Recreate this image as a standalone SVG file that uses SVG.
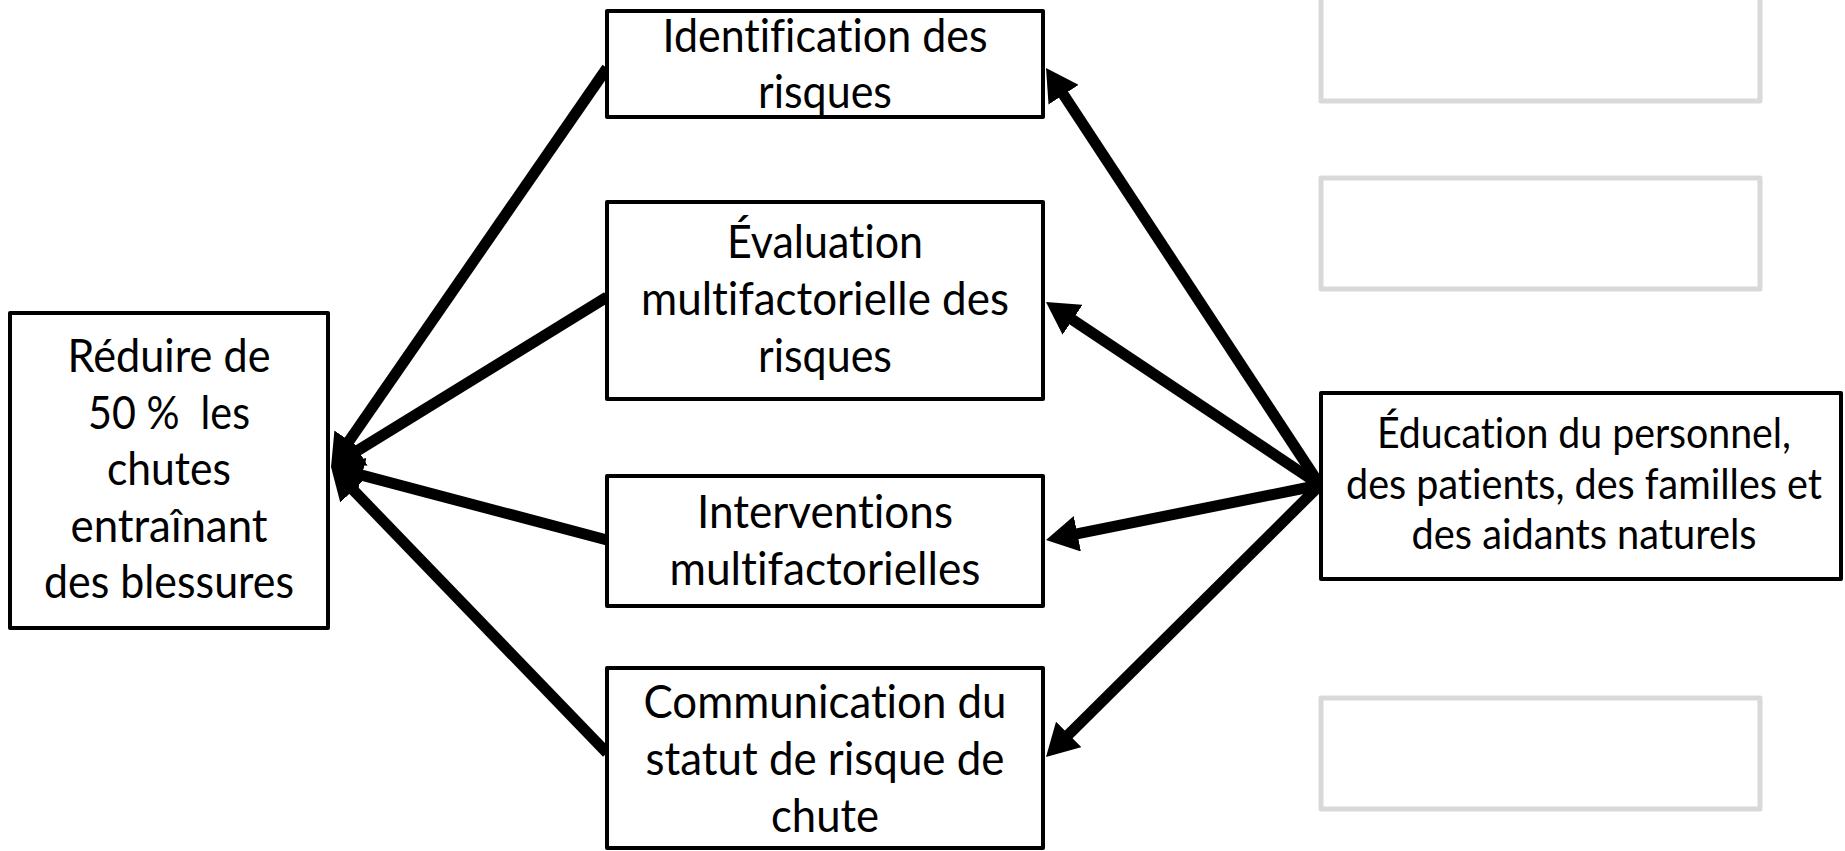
<svg xmlns="http://www.w3.org/2000/svg" width="1845" height="851" viewBox="0 0 1845 851">
  <style>
    .box { fill: #ffffff; stroke: #000000; stroke-width: 4; stroke-linejoin: round; }
    .ghost { fill: #ffffff; stroke: #d9d9d9; stroke-width: 5; stroke-linejoin: round; }
    .t { font-family: Lato, "Liberation Sans", sans-serif; fill: #000000; text-anchor: middle; font-variant-ligatures: none; font-feature-settings: "liga" 0, "clig" 0; }
    .big { font-size: 46px; }
    .mid { font-size: 47px; }
    .small { font-size: 42px; }
    .conn { stroke: #000000; stroke-width: 11; fill: none; marker-end: url(#arrow); }
  </style>
  <defs>
    <marker id="arrow" markerUnits="userSpaceOnUse" viewBox="0 0 32 36" markerWidth="32" markerHeight="36" refX="12" refY="18" orient="auto">
      <path d="M0,0 L32,18 L0,36 Z" fill="#000000"/>
    </marker>
  </defs>
  <rect x="0" y="0" width="1845" height="851" fill="#ffffff"/>

  <g id="ghost1"><rect class="ghost" x="1321" y="-20" width="439" height="121"/></g>
  <g id="ghost2"><rect class="ghost" x="1321" y="178" width="439" height="111"/></g>
  <g id="ghost3"><rect class="ghost" x="1321" y="698" width="439" height="111"/></g>

  <g id="connectors">
    <line class="conn" x1="607" y1="68" x2="342.4" y2="450.6"/>
    <line class="conn" x1="607" y1="297" x2="348.0" y2="456.5"/>
    <line class="conn" x1="607" y1="540" x2="350.3" y2="472.1"/>
    <line class="conn" x1="607" y1="753" x2="344.9" y2="481.4"/>
    <line class="conn" x1="1320" y1="485" x2="1057.0" y2="84.7"/>
    <line class="conn" x1="1320" y1="485" x2="1062.6" y2="313.1"/>
    <line class="conn" x1="1320" y1="485" x2="1065.6" y2="536.1"/>
    <line class="conn" x1="1320" y1="485" x2="1060.2" y2="742.9"/>
  </g>

  <g id="goal">
    <rect class="box" x="10" y="313" width="318" height="315"/>
    <text class="t big" x="169" y="372" textLength="203" lengthAdjust="spacingAndGlyphs">Réduire de</text>
    <text class="t big" x="169" y="428.5" textLength="162" lengthAdjust="spacingAndGlyphs" xml:space="preserve">50 %  les</text>
    <text class="t big" x="169" y="485" textLength="124" lengthAdjust="spacingAndGlyphs">chutes</text>
    <text class="t big" x="169" y="541.5" textLength="197" lengthAdjust="spacingAndGlyphs">entraînant</text>
    <text class="t big" x="169" y="598" textLength="250" lengthAdjust="spacingAndGlyphs">des blessures</text>
  </g>

  <g id="identification">
    <rect class="box" x="607" y="11" width="436" height="106"/>
    <text class="t mid" x="825" y="52" textLength="325" lengthAdjust="spacingAndGlyphs">Identification des</text>
    <text class="t mid" x="825" y="108" textLength="134" lengthAdjust="spacingAndGlyphs">risques</text>
  </g>

  <g id="evaluation">
    <rect class="box" x="607" y="202" width="436" height="197"/>
    <text class="t mid" x="825" y="258" textLength="196" lengthAdjust="spacingAndGlyphs">Évaluation</text>
    <text class="t mid" x="825" y="315" textLength="368" lengthAdjust="spacingAndGlyphs">multifactorielle des</text>
    <text class="t mid" x="825" y="372" textLength="134" lengthAdjust="spacingAndGlyphs">risques</text>
  </g>

  <g id="interventions">
    <rect class="box" x="607" y="476" width="436" height="130"/>
    <text class="t mid" x="825" y="528" textLength="256" lengthAdjust="spacingAndGlyphs">Interventions</text>
    <text class="t mid" x="825" y="585" textLength="311" lengthAdjust="spacingAndGlyphs">multifactorielles</text>
  </g>

  <g id="communication">
    <rect class="box" x="607" y="668" width="436" height="180"/>
    <text class="t mid" x="825" y="718" textLength="363" lengthAdjust="spacingAndGlyphs">Communication du</text>
    <text class="t mid" x="825" y="775" textLength="359" lengthAdjust="spacingAndGlyphs">statut de risque de</text>
    <text class="t mid" x="825" y="832" textLength="108" lengthAdjust="spacingAndGlyphs">chute</text>
  </g>

  <g id="education">
    <rect class="box" x="1321" y="393" width="520" height="186"/>
    <text class="t small" x="1584" y="448" textLength="414" lengthAdjust="spacingAndGlyphs">Éducation du personnel,</text>
    <text class="t small" x="1584" y="498.5" textLength="476" lengthAdjust="spacingAndGlyphs">des patients, des familles et</text>
    <text class="t small" x="1584" y="549" textLength="345" lengthAdjust="spacingAndGlyphs">des aidants naturels</text>
  </g>
</svg>
